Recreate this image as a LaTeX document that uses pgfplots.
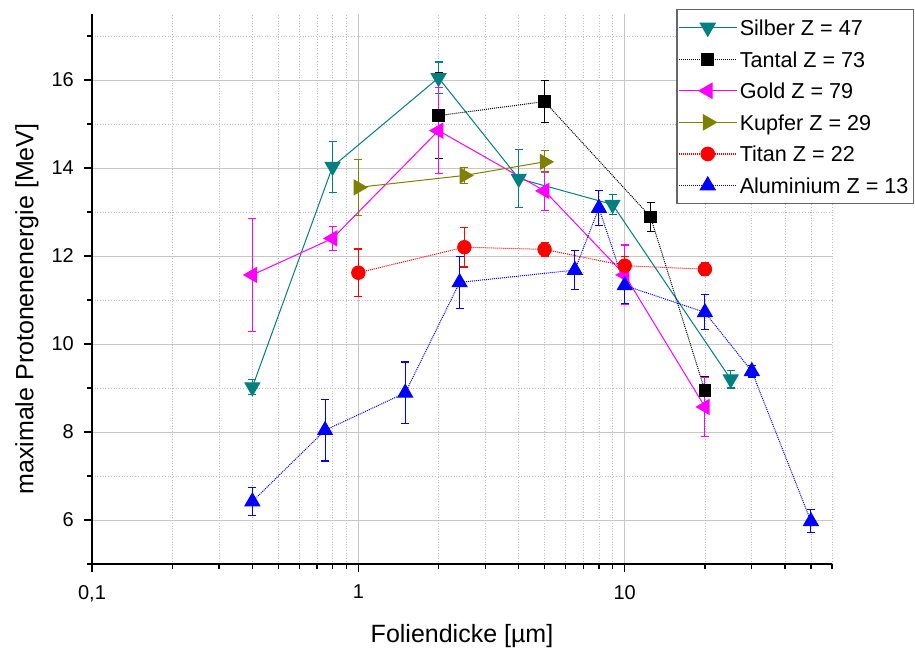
\documentclass[border=0pt]{standalone}
\usepackage{pgfplots}
\pgfplotsset{compat=1.18}
\usepackage{pgfplotstable}
\usepackage{fontspec}
\setmainfont{Liberation Sans}
\definecolor{cteal}{RGB}{0,128,128}
\definecolor{colive}{RGB}{128,128,0}
\definecolor{cmag}{RGB}{255,0,255}
\definecolor{cred}{RGB}{255,0,0}
\definecolor{cblue}{RGB}{0,0,255}

\pgfplotstableread{
x y e
0.4 9.02 0.17
0.8 14.03 0.58
2 16.05 0.36
4 13.76 0.66
9 13.17 0.22
25 9.20 0.20
}\silber
\pgfplotstableread{
x y e
2 15.19 0.98
5 15.51 0.47
12.5 12.89 0.33
20 8.94 0.33
}\tantal
\pgfplotstableread{
x y e
0.4 11.57 1.28
0.8 12.40 0.28
2 14.85 0.98
5 13.48 0.44
10 11.57 0.68
20 8.57 0.67
}\gold
\pgfplotstableread{
x y e
1 13.56 0.63
2.5 13.83 0.18
5 14.14 0.25
}\kupfer
\pgfplotstableread{
x y e
1 11.62 0.54
2.5 12.20 0.45
5 12.15 0.15
10 11.78 0.20
20 11.70 0.14
}\titan
\pgfplotstableread{
x y e
0.4 6.42 0.31
0.75 8.04 0.70
1.5 8.89 0.70
2.4 11.40 0.59
6.5 11.68 0.44
8 13.09 0.40
10 11.33 0.40
20 10.72 0.40
30 9.38 0.13
50 5.97 0.26
}\alu

\pgfplotsset{
  errs/.style={
    error bars/y dir=both, error bars/y explicit,
    error bars/error bar style={color=#1, solid, line width=1.1pt},
    error bars/error mark options={color=#1, rotate=90, mark size=4pt, line width=1.1pt, solid}
  }
}

\begin{document}
\begin{tikzpicture}
\begin{axis}[
  name=ax,
  scale only axis, width=740pt, height=550pt,
  xmode=log, xmin=0.1, xmax=60, ymin=5, ymax=17.5,
  axis x line*=bottom, axis y line*=left,
  axis line style={line width=1.6pt, black},
  xtick={0.1,1,10}, xticklabels={{0,1},1,10},
  minor xtick={0.2,0.3,0.4,0.5,0.6,0.7,0.8,0.9,2,3,4,5,6,7,8,9,20,30,40,50,60},
  ytick={6,8,10,12,14,16}, minor ytick={5,7,9,11,13,15,17},
  tick align=outside, major tick length=8pt, minor tick length=5pt,
  tick style={black, line width=1.3pt},
  grid=both,
  major grid style={line width=0.8pt, black!22},
  minor grid style={line width=0.7pt, black!25, dotted},
  /pgf/number format/assume math mode=true,
  tick label style={font=\fontsize{20}{24}\selectfont},
  yticklabel style={inner sep=0pt, xshift=-10pt},
  xticklabel style={inner sep=0pt, yshift=-13pt},
  xlabel={Foliendicke [µm]},
  ylabel={maximale Protonenenergie [MeV]},
  xlabel style={at={(axis description cs:0.5,-0.1436)}, anchor=base, font=\fontsize{25}{30}\selectfont},
  ylabel style={at={(axis description cs:-0.0793,0.4636)}, anchor=base, font=\fontsize{25}{30}\selectfont},
  legend style={at={(axis description cs:0.7892,1.0091)}, anchor=north west,
    draw=black!60, line width=1.5pt, fill=white, inner xsep=2pt, inner ysep=2pt,
    font=\fontsize{21.6}{25}\selectfont, cells={anchor=west}, row sep=0pt,
    nodes={inner xsep=3pt, inner ysep=7.8pt, text height=16pt, text depth=0pt}},
  legend image code/.code={
    \draw[overlay, line width=1.2pt, mark repeat=2, mark phase=2] plot coordinates {(0pt,0pt) (29pt,0pt) (58pt,0pt)};
    \path[draw=none, fill=none] (0pt,-5pt) rectangle (58pt,5pt);},
]
\addplot[cteal, line width=1pt, mark=triangle*, mark size=8.5pt, mark options={solid, fill=cteal, rotate=180}, errs=cteal]
  table[x=x, y=y, y error=e] {\silber};
\addlegendentry{Silber Z = 47}
\addplot[black, line width=1pt, densely dotted, mark=square*, mark size=5.8pt, mark options={solid, fill=black}, errs=black]
  table[x=x, y=y, y error=e] {\tantal};
\addlegendentry{Tantal Z = 73}
\addplot[cmag, line width=1pt, mark=triangle*, mark size=8.5pt, mark options={solid, fill=cmag, rotate=90}, errs=cmag]
  table[x=x, y=y, y error=e] {\gold};
\addlegendentry{Gold Z = 79}
\addplot[colive, line width=1pt, mark=triangle*, mark size=8.5pt, mark options={solid, fill=colive, rotate=-90}, errs=colive]
  table[x=x, y=y, y error=e] {\kupfer};
\addlegendentry{Kupfer Z = 29}
\addplot[cred, line width=1pt, densely dotted, mark=*, mark size=6.7pt, mark options={solid, fill=cred}, errs=cred]
  table[x=x, y=y, y error=e] {\titan};
\addlegendentry{Titan Z = 22}
\addplot[cblue, line width=1pt, densely dotted, mark=triangle*, mark size=8.5pt, mark options={solid, fill=cblue}, errs=cblue]
  table[x=x, y=y, y error=e] {\alu};
\addlegendentry{Aluminium Z = 13}
\end{axis}
\pgfresetboundingbox
\path[use as bounding box] ([shift={(-92pt,-87pt)}]ax.south west) rectangle ([shift={(83pt,14pt)}]ax.north east);
\end{tikzpicture}
\end{document}
